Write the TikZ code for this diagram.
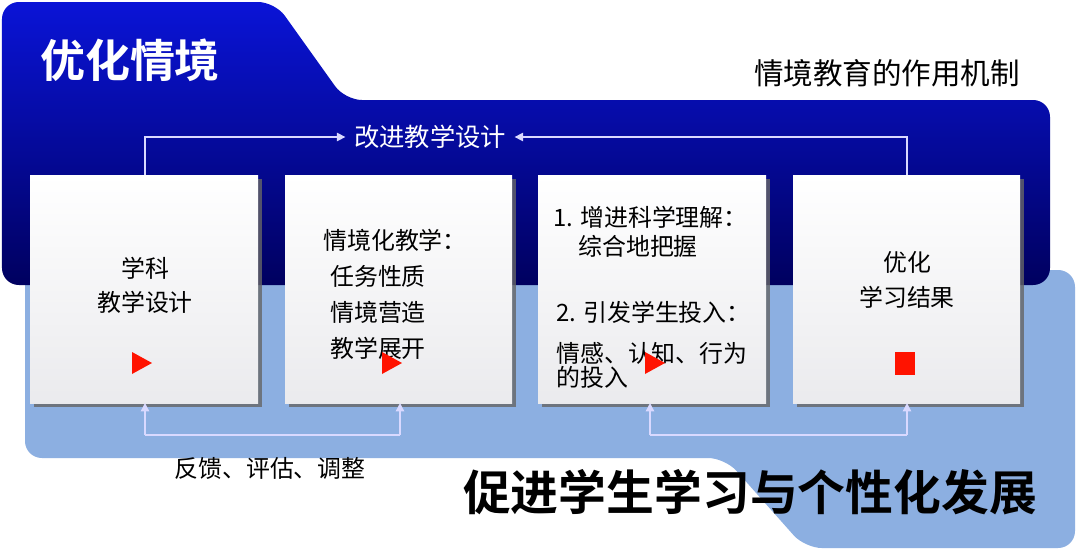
\documentclass[tikz,border=0pt]{standalone}
\usepackage{fontspec}
\setmainfont{Noto Sans CJK SC}
\newfontfamily\cjkb{Noto Sans CJK SC Bold}
\usetikzlibrary{arrows.meta,shadows}
\begin{document}
\begin{tikzpicture}[x=0.025cm,y=-0.025cm,
  card/.style={draw=none,top color=white,bottom color=blue!8!gray!15,drop shadow={shadow xshift=3pt,shadow yshift=-3pt,fill=black!60,opacity=0.8}},
  tx/.style={font=\fontsize{17}{19}\selectfont,inner sep=0pt},
  ln/.style={draw=white!85!blue,line width=1pt},
  arr/.style={ln,-{Triangle[length=6pt,width=6pt]}},
  tri/.style={fill=red!85!orange}]
\useasboundingbox (0,0) rectangle (1080,554);
\fill[white] (0,0) rectangle (1080,554);
% light blue lower region
\fill[color={rgb,255:red,140;green,175;blue,225},rounded corners=12pt] (25,270) -- (1075,270) -- (1075,548) -- (805,548) -- (725,458) -- (25,458) -- cycle;
% blue upper region
\shade[top color={rgb,255:red,10;green,20;blue,215},bottom color={rgb,255:red,0;green,0;blue,95},rounded corners=12pt]
  (2,285) -- (2,2) -- (275,2) -- (345,100) -- (1050,100) -- (1050,285) -- cycle;
% title texts
\node[tx,text=white,font=\cjkb\fontsize{32}{34}\selectfont] (title) at (130,60) {优化情境};
\node[tx,font=\fontsize{21}{24}\selectfont] (sub) at (887,73) {情境教育的作用机制};
% cards
\path[card] (30,175) rectangle (258,403);
\path[card] (285,175) rectangle (512,403);
\path[card] (538,175) rectangle (766,403);
\path[card] (793,175) rectangle (1020,403);
\coordinate (b1t) at (145,175); \coordinate (b4t) at (907,175);
\coordinate (b1b) at (145,403); \coordinate (b2b) at (400,403);
\coordinate (b3b) at (650,403); \coordinate (b4b) at (907,403);
% top feedback
\node[tx,text=white,font=\fontsize{18}{20}\selectfont] (imp) at (430,137) {改进教学设计};
\draw[arr] (b1t) |- ([xshift=-6pt]imp.west);
\draw[arr] (b4t) |- ([xshift=6pt]imp.east);
% bottom feedback
\draw[arr] (145,435) -- (b1b);
\draw[arr] (400,435) -- (b2b);
\draw[ln] (145,435) -- (400,435);
\draw[arr] (650,435) -- (b3b);
\draw[arr] (907,435) -- (b4b);
\draw[ln] (650,435) -- (907,435);
\node[tx] (fb) at (270,468) {反馈、评估、调整};
% card 1
\node[tx] (t1a) at (145,268) {学科};
\node[tx] (t1b) at (145,302) {教学设计};
\fill[tri] (132,352) -- (152,363) -- (132,374) -- cycle;
% card 2
\node[tx] (t2) at (395,240) {情境化教学：};
\node[tx,anchor=west] (t2a) at (330,276) {任务性质};
\node[tx,anchor=west] (t2b) at (330,312) {情境营造};
\node[tx,anchor=west] (t2c) at (330,348) {教学展开};
\fill[tri] (382,352) -- (402,363) -- (382,374) -- cycle;
% card 3
\node[tx,anchor=west] (t3a) at (553,217) {1. 增进科学理解：};
\node[tx,anchor=west] (t3b) at (578,246) {综合地把握};
\node[tx,anchor=west] (t3c) at (556,312) {2. 引发学生投入：};
\node[tx,anchor=west] (t3d) at (556,353) {情感、认知、行为};
\node[tx,anchor=west] (t3e) at (556,377) {的投入};
\fill[tri] (645,352) -- (665,363) -- (645,374) -- cycle;
% card 4
\node[tx] (t4a) at (907,262) {优化};
\node[tx] (t4b) at (907,297) {学习结果};
\fill[tri] (895,352) rectangle (915,375);
% bottom title
\node[tx,font=\cjkb\fontsize{34}{36}\selectfont,drop shadow={shadow xshift=2pt,shadow yshift=-2pt,fill=none}] (big) at (750,492) {促进学生学习与个性化发展};
\end{tikzpicture}
\end{document}
